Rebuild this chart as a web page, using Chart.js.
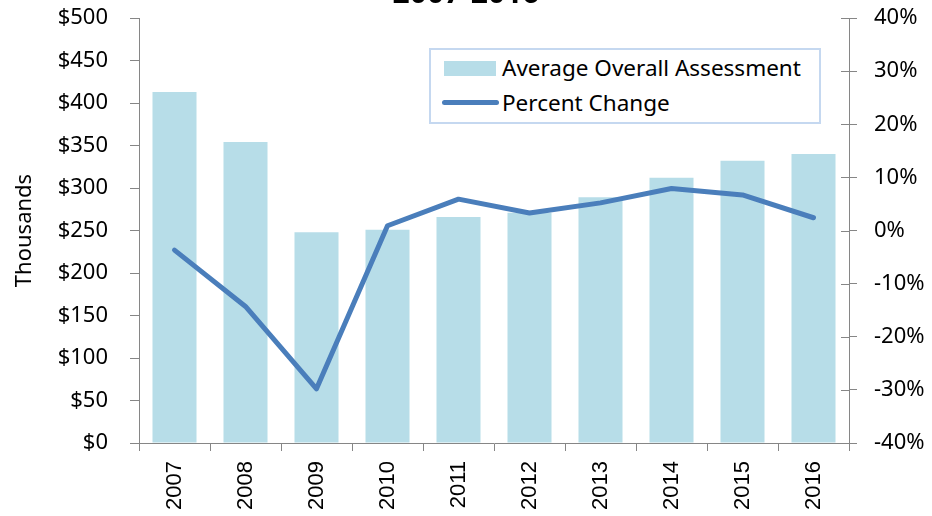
<!DOCTYPE html>
<html>
<head>
<meta charset="utf-8">
<script src="https://cdn.jsdelivr.net/npm/chart.js@4"></script>
<style>
  html, body { margin: 0; padding: 0; background: #fff; overflow: hidden; }
  #wrap { position: absolute; left: 0; top: -30px; width: 932px; height: 546px; }
  #legend {
    position: absolute; left: 429px; top: 48px; width: 388px; height: 72px;
    border: 2px solid #c5d8f0; background: #fff;
    font-family: "Noto Sans", sans-serif; font-size: 22.5px; color: #000;
  }
  .item { position: absolute; left: 0; height: 30px; line-height: 30px; white-space: nowrap; }
  .item span { position: absolute; left: 71px; top: 0; }
  .swatch-bar { position: absolute; left: 13px; top: 8px; width: 52px; height: 15px; background: #b7dde8; }
  .swatch-line { position: absolute; left: 11px; top: 12px; width: 57px; height: 5px; border-radius: 3px; background: #4a7ebb; }
</style>
</head>
<body>
<div id="wrap"><canvas id="chart"></canvas></div>
<div id="legend">
  <div class="item" style="top:3px"><div class="swatch-bar"></div><span>Average Overall Assessment</span></div>
  <div class="item" style="top:38px"><div class="swatch-line"></div><span>Percent Change</span></div>
</div>
<script>
// données
const years = ['2007', '2008', '2009', '2010', '2011', '2012', '2013', '2014', '2015', '2016'];
const avgAssessment = [413, 354, 248, 251, 266, 271, 289, 312, 332, 340]; // milliers de $
const percentChange = [-3.7, -14.3, -29.8, 0.9, 5.9, 3.3, 5.2, 7.9, 6.7, 2.4]; // %

const axisColor = '#868686';
const labelFont = { family: 'Noto Sans', size: 22 };

// petites graduations vers l'intérieur sur l'axe de droite
const innerTicks = {
    id: 'innerTicks',
    afterDraw(chart) {
        const s = chart.scales.yPct;
        const c = chart.ctx;
        c.save();
        c.strokeStyle = axisColor;
        c.lineWidth = 1;
        s.ticks.forEach(t => {
            const y = Math.round(s.getPixelForValue(t.value)) + 0.5;
            c.beginPath();
            c.moveTo(s.left - 8, y);
            c.lineTo(s.left, y);
            c.stroke();
        });
        c.restore();
    }
};

const ctx = document.getElementById('chart').getContext('2d');

new Chart(ctx, {
    data: {
        labels: years,
        datasets: [
            {
                type: 'line',
                label: 'Percent Change',
                data: percentChange,
                yAxisID: 'yPct',
                borderColor: '#4a7ebb',
                borderWidth: 5,
                pointRadius: 0,
                tension: 0,
                borderCapStyle: 'round',
                borderJoinStyle: 'round',
                order: 0
            },
            {
                type: 'bar',
                label: 'Average Overall Assessment',
                data: avgAssessment,
                yAxisID: 'yVal',
                backgroundColor: '#b7dde8',
                barPercentage: 0.62,
                categoryPercentage: 1,
                order: 1
            }
        ]
    },
    options: {
        responsive: true,
        maintainAspectRatio: false,
        animation: false,
        layout: { padding: 0 },
        plugins: {
            legend: { display: false },
            tooltip: { enabled: false },
            title: {
                display: true,
                text: '2007-2016',
                color: '#000',
                font: { family: 'Noto Sans', size: 30, weight: 'bold', lineHeight: 1.2 },
                padding: { top: 6, bottom: 6 }
            }
        },
        scales: {
            x: {
                offset: true,
                grid: { display: true, drawOnChartArea: false, offset: true, tickLength: 8, color: axisColor, tickColor: axisColor },
                border: { color: axisColor, width: 1 },
                ticks: {
                    color: '#000',
                    font: { family: 'Liberation Sans', size: 22 },
                    minRotation: 90,
                    maxRotation: 90,
                    autoSkip: false,
                    padding: 10
                },
                afterFit: s => { s.height = 73; }
            },
            yVal: {
                position: 'left',
                min: 0,
                max: 500,
                grid: { drawOnChartArea: false, tickLength: 9, color: axisColor, tickColor: axisColor },
                border: { color: axisColor, width: 1 },
                ticks: {
                    stepSize: 50,
                    color: '#000',
                    font: labelFont,
                    padding: 22,
                    callback: v => '$' + v
                },
                title: {
                    display: true,
                    text: 'Thousands',
                    color: '#000',
                    font: labelFont,
                    padding: { top: 12, bottom: 0 }
                },
                afterFit: s => { s.width = 139; }
            },
            yPct: {
                position: 'right',
                min: -40,
                max: 40,
                grid: { drawOnChartArea: false, tickLength: 8, color: axisColor, tickColor: axisColor },
                border: { color: axisColor, width: 1 },
                ticks: {
                    stepSize: 10,
                    color: '#000',
                    font: labelFont,
                    padding: 17,
                    callback: v => v + '%'
                },
                afterFit: s => { s.width = 83; }
            }
        }
    },
    plugins: [innerTicks]
});
</script>
</body>
</html>
